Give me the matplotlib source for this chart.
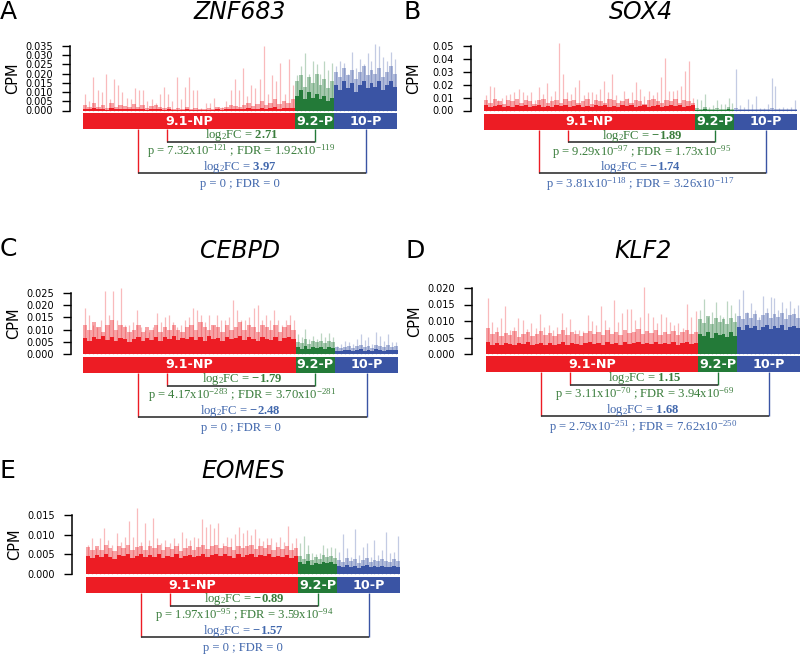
import numpy as np
import matplotlib
matplotlib.use('Agg')
import matplotlib.pyplot as plt

plt.rcParams['font.family'] = 'DejaVu Sans'
plt.rcParams['mathtext.fontset'] = 'custom'
plt.rcParams['mathtext.rm'] = 'Liberation Serif'
plt.rcParams['mathtext.it'] = 'Liberation Serif:italic'
plt.rcParams['mathtext.bf'] = 'Liberation Serif:bold'
plt.rcParams['mathtext.default'] = 'rm'

W, H = 800, 654

genes = ['ZNF683', 'SOX4', 'CEBPD', 'KLF2', 'EOMES']
letters = ['A', 'B', 'C', 'D', 'E']
groups = ['9.1-NP', '9.2-P', '10-P']
group_size = [675, 125, 200]  # relative number of cells per cluster

# per-cell CPM: tall spikes, dense middle layer, solid core
a_np_spike = [0.009, 0.005, 0.018, 0.011, 0.010, 0.020, 0.006, 0.017, 0.014, 0.010, 0.007, 0.006, 0.012,
              0.011, 0.011, 0.005, 0.006, 0.004, 0.009, 0.013, 0.009, 0.005, 0.018, 0.006, 0.013, 0.018,
              0.011, 0.011, 0.0015, 0.004, 0.004, 0.007, 0.002, 0.002, 0.005, 0.011, 0.017, 0.011, 0.023,
              0.008, 0.014, 0.012, 0.017, 0.035, 0.009, 0.019, 0.016, 0.026, 0.009, 0.028, 0.014]
a_np_mid = [0.003, 0.002, 0.004, 0.002, 0.003, 0.0015, 0.004, 0.002, 0.003, 0.0025, 0.002, 0.0035, 0.002,
            0.003, 0.0015, 0.0025, 0.003, 0.002, 0.0015, 0.002, 0.001, 0.0015, 0.001, 0.002, 0.001, 0.0015,
            0.001, 0.001, 0.0015, 0.001, 0.002, 0.0015, 0.002, 0.003, 0.0025, 0.002, 0.003, 0.004, 0.0025,
            0.0035, 0.005, 0.003, 0.004, 0.006, 0.0035, 0.005, 0.004, 0.006]
a_np_core = [0.001, 0.0006, 0.0012, 0.0008, 0.001, 0.0005, 0.0012, 0.0007, 0.001, 0.0008, 0.0006, 0.001,
             0.0007, 0.0009, 0.0005, 0.0008, 0.001, 0.0006, 0.0004, 0.0006, 0.0003, 0.0005, 0.0003, 0.0006,
             0.0003, 0.0004, 0.0003, 0.0003, 0.0005, 0.0003, 0.0006, 0.0004, 0.0006, 0.0009, 0.0007, 0.0006,
             0.001, 0.0012, 0.0008, 0.001, 0.0015, 0.001, 0.0012, 0.0018, 0.001, 0.0015, 0.0012, 0.0016]
a_92_spike = [0.019, 0.024, 0.031, 0.020, 0.027, 0.025, 0.020, 0.027, 0.022, 0.026]
a_92_mid = [0.016, 0.019, 0.013, 0.018, 0.015, 0.020, 0.014, 0.017, 0.012, 0.016]
a_92_core = [0.008, 0.011, 0.006, 0.010, 0.007, 0.009, 0.006, 0.008, 0.005, 0.007]
a_10_spike = [0.024, 0.027, 0.026, 0.020, 0.032, 0.023, 0.028, 0.025, 0.031, 0.027, 0.036, 0.035, 0.029,
              0.027, 0.032, 0.028]
a_10_mid = [0.021, 0.018, 0.023, 0.019, 0.022, 0.017, 0.021, 0.024, 0.019, 0.022, 0.020, 0.023, 0.018,
            0.021, 0.024, 0.020]
a_10_core = [0.014, 0.011, 0.016, 0.012, 0.015, 0.010, 0.014, 0.016, 0.012, 0.015, 0.013, 0.016, 0.011,
             0.014, 0.016, 0.013]

b_np_spike = [0.012, 0.019, 0.018, 0.008, 0.010, 0.012, 0.013, 0.014, 0.017, 0.014, 0.012, 0.014, 0.008,
              0.018, 0.013, 0.021, 0.011, 0.015, 0.052, 0.028, 0.014, 0.013, 0.018, 0.024, 0.012, 0.014,
              0.014, 0.013, 0.017, 0.023, 0.014, 0.028, 0.012, 0.008, 0.015, 0.010, 0.014, 0.022, 0.017,
              0.011, 0.015, 0.012, 0.014, 0.026, 0.041, 0.015, 0.015, 0.016, 0.019, 0.031, 0.038, 0.010]
b_np_mid = [0.008, 0.006, 0.009, 0.007, 0.005, 0.008, 0.007, 0.009, 0.006, 0.008, 0.007, 0.005, 0.008,
            0.009, 0.006, 0.007, 0.008, 0.006, 0.009, 0.007, 0.008, 0.006, 0.007, 0.009, 0.005, 0.008,
            0.007, 0.006, 0.009, 0.008, 0.006, 0.007, 0.009, 0.006, 0.008, 0.007, 0.005, 0.008, 0.009,
            0.007, 0.006, 0.008, 0.007, 0.009, 0.006, 0.008, 0.007, 0.006]
b_np_core = [0.004, 0.0028, 0.0035, 0.0045, 0.003, 0.0038, 0.0025, 0.004, 0.0032, 0.0042, 0.0028, 0.0036,
             0.0045, 0.003, 0.0038, 0.0026, 0.004, 0.0034, 0.0044, 0.0028, 0.0036, 0.0042, 0.003, 0.0038,
             0.0026, 0.004, 0.0034, 0.0045, 0.003, 0.0036, 0.0028, 0.0042, 0.0035, 0.004, 0.0027, 0.0038,
             0.0044, 0.003, 0.0036, 0.0042, 0.0028, 0.0038, 0.0045, 0.0032, 0.004, 0.0028, 0.0036, 0.0042]
b_92_spike = [0.009, 0.008, 0.013, 0.003, 0.004, 0.008, 0.005, 0.005, 0.010, 0.006]
b_92_mid = [0.002, 0.0015, 0.0025, 0.001, 0.0015, 0.002, 0.001, 0.0015, 0.0025, 0.0015]
b_92_core = [0.0006, 0.0004, 0.0008, 0.0003, 0.0005, 0.0007, 0.0004, 0.0005, 0.0008, 0.0004]
b_10_spike = [0.032, 0.004, 0.003, 0.009, 0.005, 0.011, 0.002, 0.002, 0.005, 0.025, 0.019, 0.002, 0.0025,
              0.002, 0.003, 0.008]
b_10_mid = [0.002, 0.001, 0.0015, 0.001, 0.0012, 0.0015, 0.001, 0.0008, 0.0012, 0.002, 0.0015, 0.001,
            0.0012, 0.0015, 0.001, 0.0015]
b_10_core = [0.0005, 0.0003, 0.0004, 0.0003, 0.0004, 0.0005, 0.0003, 0.0002, 0.0004, 0.0005, 0.0004,
             0.0003, 0.0004, 0.0005, 0.0003, 0.0004]

c_np_spike = [0.019, 0.016, 0.012, 0.011, 0.014, 0.026, 0.016, 0.026, 0.014, 0.027, 0.012, 0.012, 0.013,
              0.018, 0.011, 0.010, 0.009, 0.011, 0.017, 0.013, 0.015, 0.016, 0.013, 0.011, 0.012, 0.014,
              0.015, 0.019, 0.018, 0.016, 0.013, 0.016, 0.012, 0.016, 0.014, 0.014, 0.015, 0.022, 0.018,
              0.014, 0.014, 0.015, 0.019, 0.020, 0.014, 0.016, 0.014, 0.018, 0.014, 0.012, 0.014, 0.016, 0.014]
c_np_mid = [0.012, 0.010, 0.013, 0.011, 0.009, 0.012, 0.014, 0.010, 0.012, 0.011, 0.009, 0.010, 0.012,
            0.009, 0.011, 0.010, 0.012, 0.009, 0.011, 0.010, 0.012, 0.010, 0.009, 0.011, 0.012, 0.010,
            0.013, 0.011, 0.010, 0.012, 0.011, 0.009, 0.012, 0.010, 0.011, 0.013, 0.010, 0.012, 0.011,
            0.009, 0.012, 0.011, 0.010, 0.012, 0.009, 0.011, 0.012, 0.010]
c_np_core = [0.0065, 0.0055, 0.007, 0.006, 0.0075, 0.0058, 0.0068, 0.0052, 0.0065, 0.006, 0.005, 0.0062,
             0.007, 0.0055, 0.0065, 0.0058, 0.007, 0.0055, 0.0068, 0.006, 0.0072, 0.0056, 0.0065, 0.006,
             0.007, 0.0058, 0.0068, 0.0055, 0.0072, 0.006, 0.0066, 0.0054, 0.007, 0.006, 0.0065, 0.0072,
             0.0058, 0.0068, 0.006, 0.0052, 0.0068, 0.0062, 0.0056, 0.007, 0.0055, 0.0065, 0.0068, 0.006]
c_92_spike = [0.0082, 0.0068, 0.0102, 0.006, 0.0075, 0.006, 0.0085, 0.007, 0.0085, 0.0068]
c_92_mid = [0.005, 0.0045, 0.006, 0.0042, 0.0055, 0.0048, 0.0052, 0.0045, 0.0055, 0.0048]
c_92_core = [0.0028, 0.0022, 0.0032, 0.002, 0.003, 0.0025, 0.0028, 0.0022, 0.003, 0.0025]
c_10_spike = [0.0034, 0.004, 0.0055, 0.0048, 0.004, 0.006, 0.0082, 0.0057, 0.0068, 0.004, 0.0089, 0.0075,
              0.0055, 0.0082, 0.0048, 0.005]
c_10_mid = [0.0028, 0.0024, 0.003, 0.0034, 0.0026, 0.0032, 0.0036, 0.0028, 0.0034, 0.0026, 0.0038, 0.0032,
            0.0028, 0.0036, 0.003, 0.0034]
c_10_core = [0.0014, 0.0011, 0.0015, 0.0018, 0.0013, 0.0016, 0.0019, 0.0014, 0.0017, 0.0013, 0.0019,
             0.0016, 0.0014, 0.0018, 0.0015, 0.0017]

d_np_spike = [0.0169, 0.0098, 0.0083, 0.0108, 0.0145, 0.0073, 0.0083, 0.0108, 0.0103, 0.0075, 0.0093, 0.0078,
              0.0121, 0.0083, 0.0088, 0.0073, 0.0083, 0.0123, 0.0083, 0.0105, 0.0073, 0.0073, 0.0071, 0.0118,
              0.0101, 0.0088, 0.0146, 0.0103, 0.0083, 0.0164, 0.0098, 0.0123, 0.0135, 0.0135, 0.0103, 0.0111,
              0.0202, 0.0123, 0.0111, 0.0093, 0.0121, 0.0113, 0.0098, 0.0088, 0.0093, 0.0078, 0.0151, 0.0111,
              0.0131]
d_np_mid = [0.0078, 0.006, 0.0068, 0.0055, 0.0065, 0.0058, 0.007, 0.0052, 0.0062, 0.0068, 0.0055, 0.006,
            0.007, 0.0058, 0.0065, 0.0056, 0.0062, 0.0072, 0.0058, 0.0066, 0.006, 0.0055, 0.0064, 0.007,
            0.006, 0.0068, 0.0058, 0.0074, 0.0062, 0.0066, 0.0058, 0.0072, 0.0064, 0.0068, 0.0075, 0.006,
            0.007, 0.0064, 0.0072, 0.0058, 0.0068, 0.0062, 0.007, 0.0058, 0.0066, 0.0072, 0.006, 0.0068]
d_np_core = [0.0036, 0.0028, 0.0032, 0.0026, 0.0034, 0.003, 0.0027, 0.0033, 0.0029, 0.0035, 0.0027, 0.0031,
             0.0034, 0.0028, 0.0032, 0.0026, 0.0031, 0.0035, 0.0028, 0.0033, 0.003, 0.0026, 0.0032, 0.0035,
             0.0029, 0.0034, 0.0028, 0.0036, 0.003, 0.0033, 0.0028, 0.0035, 0.0031, 0.0034, 0.0037, 0.003,
             0.0034, 0.0031, 0.0036, 0.0029, 0.0033, 0.003, 0.0035, 0.0028, 0.0032, 0.0036, 0.0029, 0.0033]
d_92_spike = [0.0133, 0.0167, 0.0113, 0.0128, 0.0159, 0.0118, 0.0113, 0.016, 0.0148, 0.0123]
d_92_mid = [0.0105, 0.0095, 0.0115, 0.009, 0.011, 0.0098, 0.0105, 0.0092, 0.011, 0.0098]
d_92_core = [0.0062, 0.0055, 0.0068, 0.005, 0.0065, 0.0058, 0.0062, 0.0052, 0.0066, 0.0056]
d_10_spike = [0.0166, 0.0194, 0.0128, 0.0154, 0.0133, 0.0113, 0.0176, 0.0138, 0.0174, 0.0169, 0.0133, 0.0159,
              0.0138, 0.0162, 0.0138, 0.0148]
d_10_mid = [0.0115, 0.0105, 0.0125, 0.011, 0.012, 0.0102, 0.0118, 0.0125, 0.0108, 0.012, 0.0112, 0.0125,
            0.0105, 0.0118, 0.0122, 0.011]
d_10_core = [0.0082, 0.0074, 0.0088, 0.0078, 0.0085, 0.0072, 0.0083, 0.0088, 0.0076, 0.0085, 0.0079,
             0.0088, 0.0074, 0.0083, 0.0086, 0.0078]

e_np_spike = [0.0075, 0.0091, 0.0065, 0.0092, 0.0118, 0.0086, 0.0074, 0.0103, 0.0082, 0.0095, 0.0135, 0.0095,
              0.0169, 0.0082, 0.0129, 0.0086, 0.0143, 0.0091, 0.008, 0.0086, 0.0078, 0.0091, 0.0078, 0.0106,
              0.0091, 0.0086, 0.0095, 0.0091, 0.014, 0.012, 0.0126, 0.0118, 0.0129, 0.008, 0.0095, 0.0091,
              0.0101, 0.012, 0.0103, 0.0112, 0.0099, 0.0114, 0.0091, 0.0084, 0.0091, 0.0091, 0.0082, 0.0095,
              0.0082, 0.0122, 0.0078, 0.0091]
e_np_mid = [0.0068, 0.006, 0.007, 0.0062, 0.0074, 0.0065, 0.0058, 0.0072, 0.0066, 0.0075, 0.006, 0.0068,
            0.0072, 0.0062, 0.007, 0.0065, 0.0074, 0.006, 0.0068, 0.0064, 0.0072, 0.0058, 0.0066, 0.007,
            0.0062, 0.0068, 0.0074, 0.0064, 0.007, 0.0075, 0.0066, 0.0072, 0.0068, 0.006, 0.0072, 0.0065,
            0.007, 0.0074, 0.0064, 0.0071, 0.0066, 0.0073, 0.0062, 0.0068, 0.0064, 0.007, 0.006, 0.0066]
e_np_core = [0.0046, 0.004, 0.0048, 0.0042, 0.005, 0.0044, 0.0039, 0.0048, 0.0045, 0.0052, 0.0041, 0.0046,
             0.005, 0.0043, 0.0048, 0.0044, 0.0051, 0.0041, 0.0047, 0.0044, 0.005, 0.004, 0.0045, 0.0048,
             0.0042, 0.0047, 0.0051, 0.0044, 0.0048, 0.0052, 0.0045, 0.005, 0.0047, 0.0041, 0.005, 0.0044,
             0.0048, 0.0051, 0.0044, 0.0049, 0.0045, 0.005, 0.0042, 0.0047, 0.0044, 0.0048, 0.0041, 0.0045]
e_92_spike = [0.0078, 0.0097, 0.0074, 0.0053, 0.005, 0.0053, 0.0075, 0.0067, 0.0069, 0.0065]
e_92_mid = [0.0045, 0.0038, 0.005, 0.0036, 0.0042, 0.0038, 0.0048, 0.0042, 0.0046, 0.004]
e_92_core = [0.003, 0.0025, 0.0032, 0.0024, 0.0028, 0.0025, 0.0031, 0.0027, 0.003, 0.0026]
e_10_spike = [0.0057, 0.0101, 0.0065, 0.0044, 0.0114, 0.0048, 0.0069, 0.008, 0.0044, 0.0086, 0.0048, 0.006,
              0.0106, 0.0053, 0.0057, 0.0097]
e_10_mid = [0.0036, 0.003, 0.004, 0.0032, 0.0038, 0.0028, 0.0035, 0.004, 0.003, 0.0036, 0.0032, 0.0038,
            0.0034, 0.003, 0.0038, 0.0034]
e_10_core = [0.002, 0.0017, 0.0022, 0.0018, 0.0021, 0.0016, 0.002, 0.0022, 0.0017, 0.002, 0.0018, 0.0021,
             0.0019, 0.0017, 0.0021, 0.0019]

y_top = [0.035, 0.05, 0.025, 0.020, 0.015]
y_step = [0.005, 0.01, 0.005, 0.005, 0.005]
y_fmt = ['%.3f', '%.2f', '%.3f', '%.3f', '%.3f']

# statistics: 9.2-P vs 9.1-NP and 10-P vs 9.1-NP
fc_92 = ['2.71', '-1.89', '-1.79', '1.15', '-0.89']
p_92 = ['7.32e-121', '9.29e-97', '4.17e-283', '3.11e-70', '1.97e-95']
fdr_92 = ['1.92e-119', '1.73e-95', '3.70e-281', '3.94e-69', '3.59e-94']
fc_10 = ['3.97', '-1.74', '-2.48', '1.68', '-1.57']
p_10 = ['0', '3.81e-118', '0', '2.79e-251', '0']
fdr_10 = ['0', '3.26e-117', '0', '7.62e-250', '0']

series = [
    [(a_np_spike, a_np_mid, a_np_core), (a_92_spike, a_92_mid, a_92_core), (a_10_spike, a_10_mid, a_10_core)],
    [(b_np_spike, b_np_mid, b_np_core), (b_92_spike, b_92_mid, b_92_core), (b_10_spike, b_10_mid, b_10_core)],
    [(c_np_spike, c_np_mid, c_np_core), (c_92_spike, c_92_mid, c_92_core), (c_10_spike, c_10_mid, c_10_core)],
    [(d_np_spike, d_np_mid, d_np_core), (d_92_spike, d_92_mid, d_92_core), (d_10_spike, d_10_mid, d_10_core)],
    [(e_np_spike, e_np_mid, e_np_core), (e_92_spike, e_92_mid, e_92_core), (e_10_spike, e_10_mid, e_10_core)],
]

RED, GREEN, BLUE = '#ED1C24', '#237A38', '#3A54A4'
TXT_GREEN, TXT_BLUE = '#3A7D3C', '#4268AD'
group_colors = [RED, GREEN, BLUE]

# pixel layout: data left/right, top tick y, zero y, spine x, group bar top, title y, letter xy
layout = [
    dict(x0=83, x1=397, ytop=46, y0=110.5, spine=70, bar=113, ty=12, lx=0, ly=12),
    dict(x0=484, x1=797, ytop=46, y0=110.5, spine=471, bar=113.5, ty=12, lx=404, ly=12),
    dict(x0=83, x1=398, ytop=293, y0=354, spine=71, bar=356.7, ty=251, lx=0, ly=249),
    dict(x0=486, x1=800, ytop=288, y0=354, spine=472, bar=356, ty=251.5, lx=405, ly=251),
    dict(x0=86, x1=400, ytop=515, y0=574, spine=72, bar=577, ty=471.5, lx=0, ly=471),
]


def fig_box(x0, yt, x1, yb):
    return [x0 / W, 1 - yb / H, (x1 - x0) / W, (yb - yt) / H]


def sci(s):
    if s == '0':
        return '0'
    m, e = s.split('e')
    return m + 'x10$^{' + str(int(e)) + '}$'


fig = plt.figure(figsize=(W / 100, H / 100), dpi=100)
total = sum(group_size)
starts = np.cumsum([0] + group_size[:-1])
centers = starts + np.array(group_size) / 2

for i, L in enumerate(layout):
    # per-cell expression bars
    ax = fig.add_axes(fig_box(L['x0'], L['ytop'], L['x1'], L['y0']))
    ax.set_xlim(0, total)
    ax.set_ylim(0, y_top[i])
    for (spike, mid, core), st, size, col in zip(series[i], starts, group_size, group_colors):
        xs = st + (np.arange(len(spike)) + 0.5) * size / len(spike)
        ax.vlines(xs, 0, spike, colors=col, alpha=0.3, lw=0.9, clip_on=False)
        for vals, a in ((mid, 0.4), (core, 1.0)):
            w = size / len(vals)
            ax.bar(st + np.arange(len(vals)) * w, vals, width=w, align='edge', color=col,
                   alpha=a, lw=0, clip_on=False)
    for s in ['top', 'right', 'bottom']:
        ax.spines[s].set_visible(False)
    ax.spines['left'].set_position(('outward', (L['x0'] - L['spine']) * 0.72))
    ax.spines['left'].set_bounds(0, y_top[i])
    ax.spines['left'].set_linewidth(1.1)
    ticks = np.arange(0, y_top[i] + y_step[i] / 2, y_step[i])
    ax.set_yticks(ticks)
    ax.set_yticklabels([y_fmt[i] % t for t in ticks])
    ax.set_xticks([])
    ax.tick_params(axis='y', length=5.8, width=1.0, pad=6.5, labelsize=7)
    ax.patch.set_alpha(0)

    fig.text((L['spine'] - 57) / W, 1 - (L['ytop'] + L['y0']) / 2 / H, 'CPM', rotation=90,
             fontsize=10.5, ha='center', va='center')
    fig.text((L['x0'] + L['x1']) / 2 / W, 1 - L['ty'] / H, genes[i], style='italic',
             fontsize=17, ha='center', va='center')
    fig.text(L['lx'] / W, 1 - L['ly'] / H, letters[i], fontsize=18, ha='left', va='center')

    # cluster bar, brackets and statistics
    an = fig.add_axes(fig_box(L['x0'], L['bar'], L['x1'], L['bar'] + 80))
    an.set_xlim(0, total)
    an.set_ylim(80, 0)
    an.axis('off')
    an.bar(starts, 16, width=group_size, align='edge', color=group_colors, lw=0)
    for name, c in zip(groups, centers):
        an.text(c, 8.3, name, color='white', fontweight='bold', fontsize=9.2, ha='center', va='center')

    inner_l, outer_l = 0.267 * total, 0.175 * total
    an.vlines(inner_l, 16, 29, color=RED, lw=1.0)
    an.vlines(centers[1], 16, 29, color=GREEN, lw=1.0)
    an.hlines(29, inner_l, centers[1], color='#333333', lw=1.2)
    an.vlines(outer_l, 16, 60, color=RED, lw=1.0)
    an.vlines(centers[2], 16, 60, color=BLUE, lw=1.0)
    an.hlines(60, outer_l, centers[2], color='#333333', lw=1.2)

    serif = dict(family='Liberation Serif', fontsize=9.1, ha='center', va='center')
    an.text(total * 0.505, 22, r'log$_2$FC = $\mathbf{' + fc_92[i] + '}$', color=TXT_GREEN, **serif)
    an.text(total * 0.505, 38.5, 'p = ' + sci(p_92[i]) + ' ; FDR = ' + sci(fdr_92[i]), color=TXT_GREEN, **serif)
    an.text(total * 0.5, 54, r'log$_2$FC = $\mathbf{' + fc_10[i] + '}$', color=TXT_BLUE, **serif)
    an.text(total * 0.5, 71, 'p = ' + sci(p_10[i]) + ' ; FDR = ' + sci(fdr_10[i]), color=TXT_BLUE, **serif)

fig.savefig('out.png', dpi=100)
